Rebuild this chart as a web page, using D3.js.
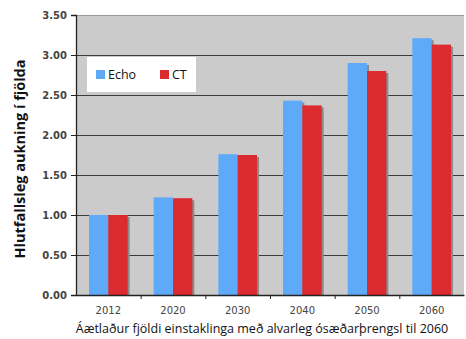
<!DOCTYPE html>
<html>
<head>
<meta charset="utf-8">
<script src="https://cdn.jsdelivr.net/npm/d3@7"></script>
<style>
  html, body { margin: 0; padding: 0; background: #fff; }
  svg { display: block; }
</style>
</head>
<body>
<svg id="chart" width="466" height="339"></svg>
<script>
// Relative growth in the number of individuals, by year
const years = ["2012", "2020", "2030", "2040", "2050", "2060"];
const echoValues = [1.00, 1.22, 1.76, 2.43, 2.90, 3.21];
const ctValues = [1.00, 1.21, 1.75, 2.37, 2.80, 3.13];
const seriesNames = ["Echo", "CT"];
const yTicks = [0, 0.5, 1, 1.5, 2, 2.5, 3, 3.5];

const colors = { Echo: "#5fa9f9", CT: "#dc2a31" };

const svg = d3.select("#chart");
const margin = { left: 76, right: 2, top: 15, bottom: 44 };
const W = 466, H = 339;
const iw = W - margin.left - margin.right;
const ih = H - margin.top - margin.bottom;

const g = svg.append("g").attr("transform", `translate(${margin.left},${margin.top})`);

const x0 = d3.scaleBand().domain(years).range([0, iw]).paddingInner(0).paddingOuter(0);
const x1 = d3.scaleBand().domain(seriesNames).range([13, x0.bandwidth() - 13]).padding(0);
const y = d3.scaleLinear().domain([0, 3.5]).range([ih, 0]);

// plot background
g.append("rect").attr("width", iw).attr("height", ih).attr("fill", "#cbcbcb");
g.append("line").attr("x1", 0).attr("x2", iw).attr("y1", 0.5).attr("y2", 0.5)
  .attr("stroke", "#9a9a9a");

// horizontal gridlines
g.append("g").selectAll("line").data(yTicks.filter(d => d > 0 && d < 3.5)).join("line")
  .attr("x1", 0).attr("x2", iw)
  .attr("y1", d => Math.round(y(d)) + 0.5).attr("y2", d => Math.round(y(d)) + 0.5)
  .attr("stroke", "#3a3a3a").attr("stroke-width", 1);

const rows = years.map((yr, i) => ({ year: yr, Echo: echoValues[i], CT: ctValues[i] }));

const groups = g.append("g").selectAll("g").data(rows).join("g")
  .attr("transform", d => `translate(${x0(d.year)},0)`);

// bar shadows
groups.selectAll("rect.shadow").data(d => seriesNames.map(k => ({ key: k, value: d[k] }))).join("rect")
  .attr("class", "shadow")
  .attr("x", d => x1(d.key) + 2)
  .attr("y", d => y(d.value) + 2)
  .attr("width", x1.bandwidth())
  .attr("height", d => ih - y(d.value) - 2)
  .attr("fill", "#8a8a8a");

// bars
groups.selectAll("rect.bar").data(d => seriesNames.map(k => ({ key: k, value: d[k] }))).join("rect")
  .attr("class", "bar")
  .attr("x", d => x1(d.key))
  .attr("y", d => y(d.value))
  .attr("width", x1.bandwidth())
  .attr("height", d => ih - y(d.value))
  .attr("fill", d => colors[d.key]);

// y axis
const yAxis = g.append("g")
  .call(d3.axisLeft(y).tickValues(yTicks).tickFormat(d3.format(".2f")).tickSize(5).tickPadding(4));
yAxis.select(".domain").attr("stroke", "#222").attr("stroke-width", 1.3);
yAxis.selectAll(".tick line").attr("stroke", "#222");
yAxis.selectAll("text")
  .attr("font-family", "DejaVu Sans, Verdana, sans-serif")
  .attr("font-size", 10).attr("font-weight", "bold").attr("fill", "#444");

// x axis with ticks on category boundaries
const xAxis = g.append("g").attr("transform", `translate(0,${ih})`)
  .call(d3.axisBottom(x0).tickSize(0).tickPadding(12));
xAxis.select(".domain").attr("stroke", "#222").attr("stroke-width", 1.3);
xAxis.selectAll("text")
  .attr("font-family", "DejaVu Sans, Verdana, sans-serif")
  .attr("font-size", 10).attr("fill", "#444");
xAxis.append("g").selectAll("line").data(years.slice(1)).join("line")
  .attr("x1", d => x0(d) + 0.5).attr("x2", d => x0(d) + 0.5)
  .attr("y1", 0).attr("y2", 4).attr("stroke", "#222");

// axis titles
svg.append("text")
  .attr("transform", `translate(25,159) rotate(-90)`)
  .attr("text-anchor", "middle")
  .attr("font-family", "Open Sans, sans-serif")
  .attr("font-size", 14.5).attr("font-weight", "bold").attr("fill", "#111")
  .text("Hlutfallsleg aukning í fjölda");

svg.append("text")
  .attr("x", 262).attr("y", 333)
  .attr("text-anchor", "middle")
  .attr("font-family", "Open Sans, sans-serif")
  .attr("font-size", 12.5).attr("fill", "#111")
  .text("Áætlaður fjöldi einstaklinga með alvarleg ósæðarþrengsl til 2060");

// legend
const legend = svg.append("g").attr("transform", "translate(87,57)");
legend.append("rect").attr("width", 109).attr("height", 35).attr("fill", "#fff");
const items = legend.selectAll("g").data(seriesNames).join("g")
  .attr("transform", (d, i) => `translate(${9 + i * 64},13)`);
items.append("rect").attr("width", 9).attr("height", 9).attr("fill", d => colors[d]);
items.append("text").attr("x", 12).attr("y", 9)
  .attr("font-family", "Open Sans, sans-serif").attr("font-size", 12.5).attr("fill", "#111")
  .text(d => d);
</script>
</body>
</html>
